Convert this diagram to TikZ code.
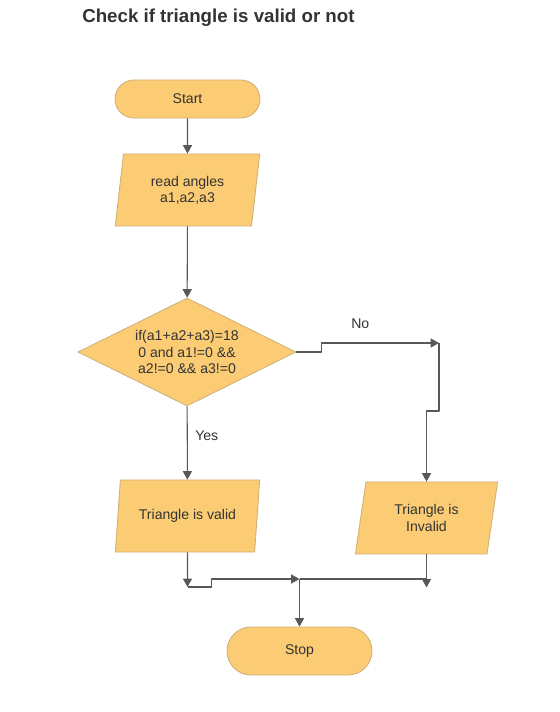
\documentclass[tikz,border=0pt]{standalone}
\usepackage{fontspec}
\setmainfont{Liberation Sans}
\usetikzlibrary{shapes.geometric,arrows.meta}
\definecolor{boxfill}{RGB}{251,204,116}
\definecolor{boxline}{RGB}{205,176,122}
\definecolor{linegray}{RGB}{88,88,88}
\definecolor{textgray}{RGB}{51,51,51}

\begin{document}
\begin{tikzpicture}[x=0.025cm, y=-0.025cm, font=\fontsize{10}{11.5}\selectfont, line join=round, >={Triangle[length=6pt,width=6.5pt]},
		every node/.style={text=textgray},
		terminal/.style={draw=boxline, fill=boxfill, line width=0.6pt, inner sep=0pt, minimum width=3.625cm},
		iobox/.style={trapezium, trapezium stretches=true, draw=boxline, fill=boxfill, line width=0.6pt, inner sep=0pt, minimum height=1.8cm, align=center},
		decision/.style={diamond, aspect=2, draw=boxline, fill=boxfill, line width=0.6pt, inner sep=0pt, minimum width=5.45cm, minimum height=2.7cm, align=center},
		flow/.style={draw=linegray, line width=0.75pt}]
	\useasboundingbox (0,0) rectangle (560,712);
	
	\node[anchor=base west, inner sep=0pt, font=\fontsize{13.3}{16}\selectfont\bfseries] (title) at (82,22) {Check if triangle is valid or not};
	
	\node[terminal, minimum height=0.95cm, rounded corners=0.475cm] (start) at (187.5,99) {Start};
	\node[iobox, trapezium left angle=80.5, trapezium right angle=99.5, minimum width=3.625cm] (read) at (187.5,190) {read angles\\a1,a2,a3};
	\node[decision] (cond) at (187,352) {if(a1+a2+a3)=18\\0 and a1!=0 \&\&\\a2!=0 \&\& a3!=0};
	\node[iobox, trapezium left angle=74.5, trapezium right angle=105.5, minimum width=3.625cm] (valid) at (187.5,516) {Triangle is valid};
	\node[iobox, trapezium left angle=78, trapezium right angle=102, minimum width=3.575cm] (inv) at (426.5,518) {Triangle is\\Invalid};
	\node[terminal, minimum height=1.2cm, rounded corners=0.6cm] (stop) at (299.5,651) {Stop};
	
	\draw[flow,->] (start) -- (read);
	\draw[flow,->] (read) -- (cond);
	\draw[flow,->] (cond) -- (valid) node[pos=0.4, right=2pt] {Yes};
	
	% branch No
	\coordinate (nobend) at (439,343);
	\draw[flow,->] (cond.east) -- ++(25,0) |- (nobend) node[pos=0.665, above=6.5pt] {No};
	\draw[flow,->] (nobend) -- ++(0,68) -| (inv.north);
	
	% join before Stop
	\coordinate (join) at (299.5,579);
	\coordinate (vend) at (187.5,587);
	\draw[flow,->] (valid.south) -- (vend);
	\draw[flow,->] (vend) -- ++(24,0) |- (join);
	\draw[flow,->] (inv.south) -- ++(0,33);
	\draw[flow] (inv.south |- join) -- (join);
	\draw[flow,->] (join) -- (stop.north);
\end{tikzpicture}
\end{document}
